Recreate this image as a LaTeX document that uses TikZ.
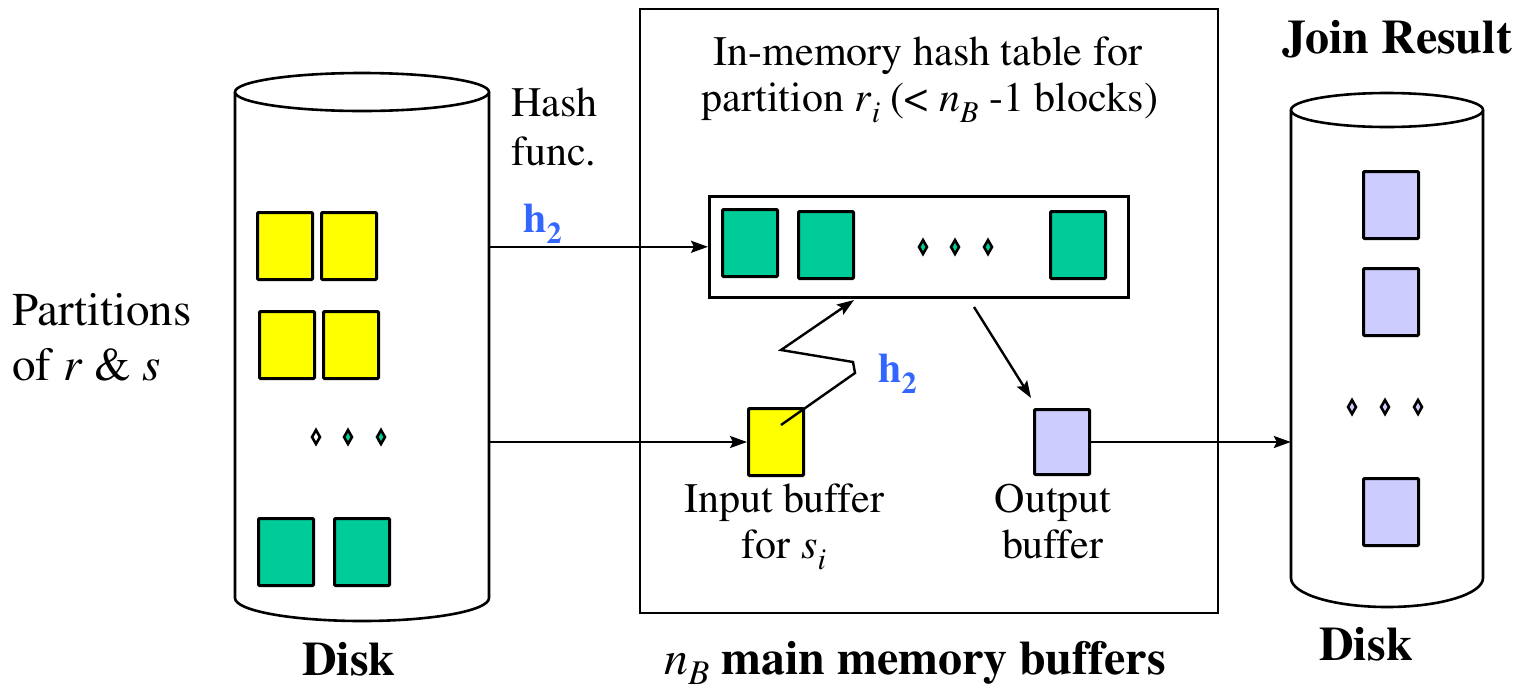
\documentclass[tikz,border=0pt]{standalone}
\usepackage[T1]{fontenc}
\renewcommand\rmdefault{ptm}
\usetikzlibrary{arrows.meta,shapes.geometric}
\definecolor{blkY}{RGB}{255,255,0}
\definecolor{blkG}{RGB}{0,204,153}
\definecolor{blkL}{RGB}{204,204,255}
\definecolor{hashblue}{RGB}{51,102,255}
\newcommand\dn[1]{\raisebox{-0.28em}{\scalebox{0.72}{#1}}}
\tikzset{
  blk/.style={draw, line width=3pt, rounded corners=1pt, minimum width=55pt, minimum height=67pt, inner sep=0pt},
  dot/.style={draw, diamond, line width=2.6pt, minimum width=9pt, minimum height=15pt, inner sep=0pt},
  cyl/.style={line width=2.6pt},
  conn/.style={line width=2.4pt, -{Stealth[length=17pt,width=12pt,inset=3pt]}},
  txt/.style={inner sep=0pt, font=\fontsize{42}{48}\selectfont},
  bigtxt/.style={inner sep=0pt, font=\fontsize{48}{54}\selectfont\bfseries},
  hlab/.style={inner sep=0pt, text=hashblue, font=\fontsize{42}{48}\selectfont\bfseries},
}
\begin{document}
\begin{tikzpicture}[x=1pt,y=-1pt]
\useasboundingbox (0,0) rectangle (1517,689);

% ---------- left disk ----------
\draw[cyl] (235,92) -- (235,598) arc[start angle=180,end angle=0,x radius=127,y radius=23] -- (489,92);
\draw[cyl,fill=white] (362,92) ellipse[x radius=127,y radius=19];
\node[minimum width=254pt,minimum height=506pt,inner sep=0pt] (ldisk) at (362,345) {};

\node[blk,fill=blkY,anchor=north west] (y1) at (256,211) {};
\node[blk,fill=blkY,anchor=north west] (y2) at (320,211) {};
\node[blk,fill=blkY,anchor=north west] (y3) at (258,310) {};
\node[blk,fill=blkY,anchor=north west] (y4) at (322,310) {};
\node[dot,fill=white] (ld1) at (316,437) {};
\node[dot,fill=blkG] (ld2) at (348,437) {};
\node[dot,fill=blkG] (ld3) at (381,437) {};
\node[blk,fill=blkG,anchor=north west] (g1) at (257,517) {};
\node[blk,fill=blkG,anchor=north west] (g2) at (333,517) {};

% ---------- main memory ----------
\node[draw,line width=2.4pt,minimum width=578pt,minimum height=604pt,inner sep=0pt,anchor=north west] (mem) at (639,8) {};
\node[draw,line width=2.6pt,minimum width=419pt,minimum height=101pt,inner sep=0pt,anchor=north west] (ht) at (708,195) {};
\node[blk,fill=blkG,anchor=north west] (h1) at (721,208) {};
\node[blk,fill=blkG,anchor=north west] (h2) at (797,210) {};
\node[blk,fill=blkG,anchor=north west] (h3) at (1049,210) {};
\node[dot,fill=blkG] (hd1) at (923,247) {};
\node[dot,fill=blkG] (hd2) at (955,247) {};
\node[dot,fill=blkG] (hd3) at (988,247) {};

\node[blk,fill=blkY,minimum height=67pt,anchor=north west] (inbuf) at (747,407) {};
\node[blk,fill=blkL,minimum height=65pt,anchor=north west] (outbuf) at (1033,408) {};

% ---------- right disk ----------
\draw[cyl] (1291,110) -- (1291,578) arc[start angle=180,end angle=0,x radius=96,y radius=29] -- (1483,110);
\draw[cyl,fill=white] (1387,110) ellipse[x radius=96,y radius=17];
\node[minimum width=192pt,minimum height=468pt,inner sep=0pt] (rdisk) at (1387,344) {};

\node[blk,fill=blkL,anchor=north west] (r1) at (1362,170) {};
\node[blk,fill=blkL,anchor=north west] (r2) at (1362,267) {};
\node[dot,fill=blkL] (rd1) at (1352,407) {};
\node[dot,fill=blkL] (rd2) at (1385,407) {};
\node[dot,fill=blkL] (rd3) at (1418,407) {};
\node[blk,fill=blkL,anchor=north west] (r3) at (1362,477) {};

% ---------- connectors ----------
\draw[conn] (ldisk.east |- ht.west) -- (ht.west);
\draw[conn] (ldisk.east |- inbuf.west) -- (inbuf.west);
\draw[conn] (outbuf.east) -- (rdisk.west |- outbuf.east);
\coordinate (zz0) at (781,425);
\coordinate (zz1) at (855,373);
\coordinate (zz2) at (853,362);
\coordinate (zz3) at (781,350);
\coordinate (zz4) at (854,300);
\draw[conn] (zz0) -- (zz1) -- (zz2) -- (zz3) -- (zz4);
\coordinate (oa) at (974,307);
\draw[conn] (oa) -- (1031,398);

% ---------- labels ----------
\node[txt,anchor=base west] (hash1) at (511,116) {Hash};
\node[txt,anchor=base west] (hash2) at (511,165) {func.};
\node[hlab,anchor=base west] (hl1) at (523,232) {h\dn{2}};
\node[hlab,anchor=base west] (hl2) at (878,382) {h\dn{2}};

\node[txt,anchor=base] (tt1) at (928,65) {In-memory hash table for};
\node[txt,anchor=base] (tt2) at (930,111) {partition \textit{r}\dn{\textit{i}} (< \textit{n}\dn{\textit{B}} -1 blocks)};

\node[bigtxt,anchor=base] (jr) at (1397,53) {Join Result};

\node[txt,font=\fontsize{47}{52}\selectfont,anchor=base west] (p1) at (12,325) {Partitions};
\node[txt,font=\fontsize{47}{52}\selectfont,anchor=base west] (p2) at (12,380) {of \textit{r} \& \textit{s}};

\node[txt,anchor=base] (ib1) at (784,512) {Input buffer};
\node[txt,anchor=base] (ib2) at (784,558) {for \textit{s}\dn{\textit{i}}};
\node[txt,anchor=base] (ob1) at (1053,512) {Output};
\node[txt,anchor=base] (ob2) at (1053,558) {buffer};

\node[bigtxt,anchor=base] (dl) at (349,675) {Disk};
\node[bigtxt,anchor=base] (dr) at (1366,660) {Disk};
\node[bigtxt,anchor=base] (mm) at (915,674) {\textit{\mdseries n}\raisebox{-0.22em}{\scalebox{0.72}{\textit{\mdseries B}}} main memory buffers};
\end{tikzpicture}
\end{document}
